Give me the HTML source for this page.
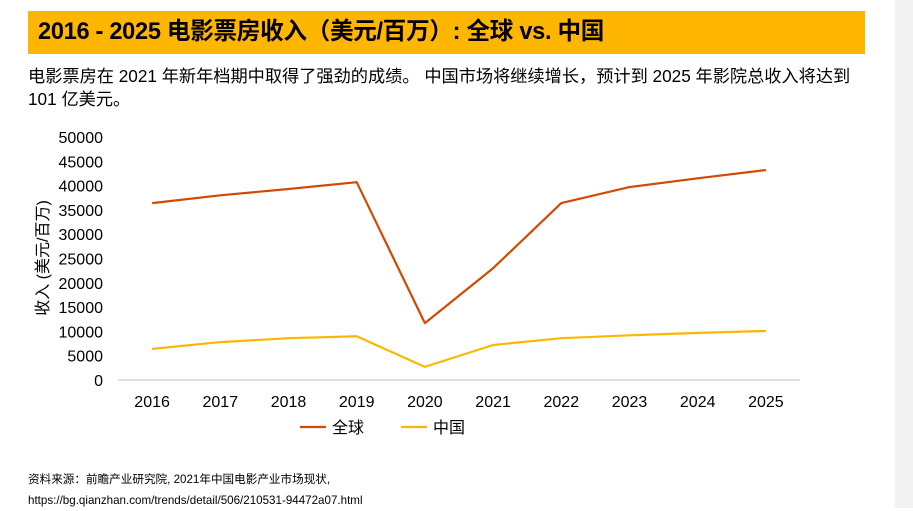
<!DOCTYPE html>
<html><head><meta charset="utf-8"><style>
body{margin:0;width:913px;height:508px;background:#fff;position:relative;overflow:hidden;font-family:"Liberation Sans","Noto Sans CJK SC",sans-serif;color:#000}
.banner{position:absolute;left:28px;top:11px;width:837px;height:43px;background:#ffb600}
.banner h1{margin:0;font-size:23.6px;font-weight:bold;line-height:43px;padding-left:10px;letter-spacing:-0.3px;white-space:nowrap}
.desc{position:absolute;left:28px;top:65px;width:880px;font-size:17.2px;line-height:23px;white-space:nowrap}
.src{position:absolute;left:28px;top:469px;font-size:11.6px;line-height:21px}
.strip{position:absolute;left:895px;top:0;width:18px;height:508px;background:#f2f2f2}
</style></head><body>
<div class="strip"></div>
<div class="banner"><h1>2016 - 2025 电影票房收入（美元/百万）: 全球 vs. 中国</h1></div>
<div class="desc">电影票房在 2021 年新年档期中取得了强劲的成绩。 中国市场将继续增长，预计到 2025 年影院总收入将达到<br>101 亿美元。</div>
<svg id="chart" width="913" height="508" style="position:absolute;left:0;top:0"></svg>
<div class="src">资料来源：前瞻产业研究院, 2021年中国电影产业市场现状,<br>https://bg.qianzhan.com/trends/detail/506/210531-94472a07.html</div>
<script>
const years=["2016","2017","2018","2019","2020","2021","2022","2023","2024","2025"];
const globalVals=[36400,38000,39300,40700,11700,23000,36400,39700,41500,43200];
const chinaVals=[6400,7800,8600,9000,2700,7200,8600,9200,9700,10100];
const yTicks=[0,5000,10000,15000,20000,25000,30000,35000,40000,45000,50000];
const NS="http://www.w3.org/2000/svg";
const svg=document.getElementById('chart');
const L=118,R=800,T=137,B=380;
const x=i=>L+(R-L)/years.length*(i+0.5);
const y=v=>B-(B-T)*v/50000;
function mk(t,a){const e=document.createElementNS(NS,t);for(const k in a)e.setAttribute(k,a[k]);svg.appendChild(e);return e;}
yTicks.forEach(v=>{const t=mk('text',{x:103,y:y(v)+6,'text-anchor':'end','font-size':16});t.textContent=v;

});
const ax=mk('line',{x1:L,x2:R,y1:B,y2:B,stroke:'#bfbfbf','stroke-width':1});


years.forEach((c,i)=>{const t=mk('text',{x:x(i),y:407,'text-anchor':'middle','font-size':16});t.textContent=c;

});
const yt=mk('text',{transform:'translate(48,258) rotate(-90)','text-anchor':'middle','font-size':16});yt.textContent='收入 (美元/百万)';


function series(vals,col,name){const p=mk('polyline',{points:vals.map((v,i)=>x(i)+','+y(v)).join(' '),fill:'none',stroke:col,'stroke-width':2.2,'stroke-linejoin':'round'});

}
series(globalVals,'#d04a02','global-line');
series(chinaVals,'#ffb600','china-line');
function legend(x0,col,label,name){const g=document.createElementNS(NS,'g');svg.appendChild(g);


const l=document.createElementNS(NS,'line');l.setAttribute('x1',x0);l.setAttribute('x2',x0+26);l.setAttribute('y1',427);l.setAttribute('y2',427);l.setAttribute('stroke',col);l.setAttribute('stroke-width',2.2);g.appendChild(l);
const t=document.createElementNS(NS,'text');t.setAttribute('x',x0+32);t.setAttribute('y',433);t.setAttribute('font-size',16);t.textContent=label;g.appendChild(t);}
legend(300,'#d04a02','全球','legend-global');
legend(401,'#ffb600','中国','legend-china');
</script>
</body></html>
